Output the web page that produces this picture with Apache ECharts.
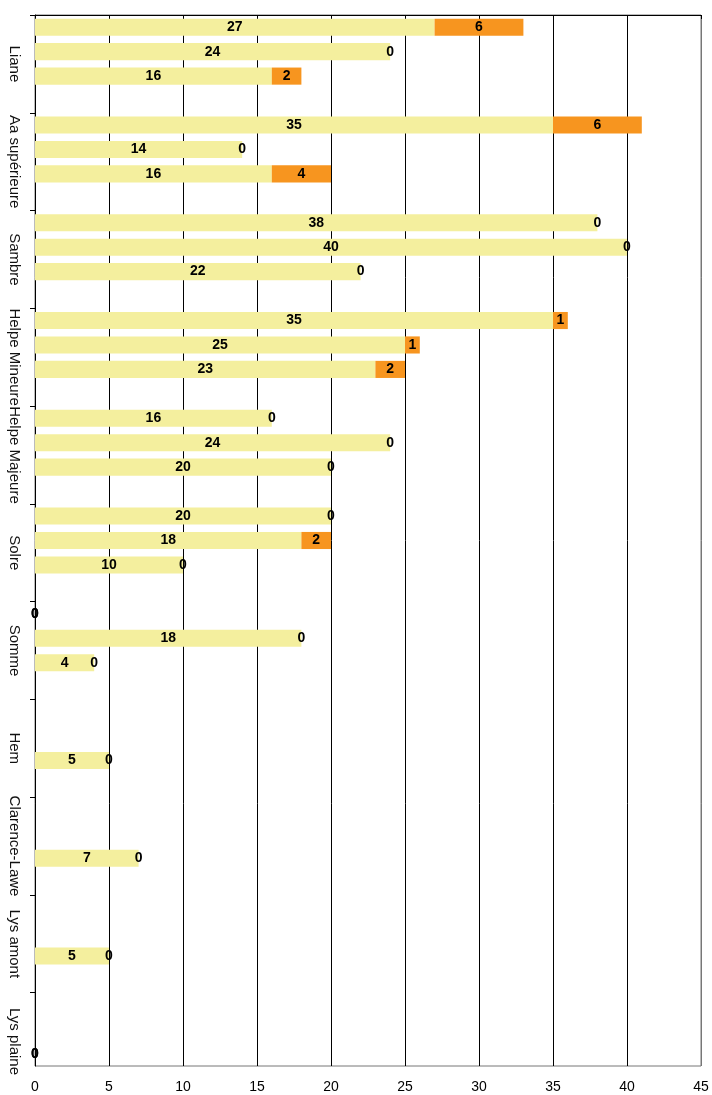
<!DOCTYPE html>
<html>
<head>
<meta charset="utf-8">
<script src="https://cdn.jsdelivr.net/npm/echarts@6/dist/echarts.min.js"></script>
<style>
html,body{margin:0;padding:0;background:#fff;}
#chart{width:712px;height:1095px;}
</style>
</head>
<body>
<div id="chart"></div>
<script>
// River names (outer categories, top to bottom)
const rivers = ['Liane', 'Aa supérieure', 'Sambre', 'Helpe Mineure', 'Helpe Majeure', 'Solre', 'Somme', 'Hem', 'Clarence-Lawe', 'Lys amont', 'Lys plaine'];
// Three rows per river: first (yellow) segment values
const yellowValues = [
  [27, 24, 16],
  [35, 14, 16],
  [38, 40, 22],
  [35, 25, 23],
  [16, 24, 20],
  [20, 18, 10],
  [0, 18, 4],
  [null, null, 5],
  [null, null, 7],
  [null, null, 5],
  [null, null, 0]
];
// Three rows per river: second (orange) segment values
const orangeValues = [
  [6, 0, 2],
  [6, 0, 4],
  [0, 0, 0],
  [1, 1, 2],
  [0, 0, 0],
  [0, 2, 0],
  [0, 0, 0],
  [null, null, 0],
  [null, null, 0],
  [null, null, 0],
  [null, null, 0]
];
// X axis ticks
const xTicks = [0, 5, 10, 15, 20, 25, 30, 35, 40, 45];

// Build slot rows: 3 rows per river plus an empty separator row (except after the last)
const slotNames = [];
const yellowData = [];
const orangeData = [];
const tickSlots = [];
const labelSlots = [];
rivers.forEach((r, g) => {
  tickSlots.push(slotNames.length);
  labelSlots.push(slotNames.length + 2);
  for (let s = 0; s < 3; s++) {
    slotNames.push(r + ' ' + (s + 1));
    yellowData.push(yellowValues[g][s] === null ? '-' : yellowValues[g][s]);
    orangeData.push(orangeValues[g][s] === null ? '-' : orangeValues[g][s]);
  }
  if (g < rivers.length - 1) {
    slotNames.push('sep' + g);
    yellowData.push('-');
    orangeData.push('-');
  }
});
const nSlots = slotNames.length;

const chart = echarts.init(document.getElementById('chart'), null, {renderer: 'canvas'});
const labelStyle = {
  show: true,
  position: 'inside',
  color: '#000',
  fontFamily: 'Liberation Sans, Arial, sans-serif',
  fontWeight: 'bold',
  fontSize: 14
};
const gridLineColors = xTicks.map((t, i) => i === xTicks.length - 1 ? '#777777' : '#000');

chart.setOption({
  animation: false,
  backgroundColor: '#fff',
  grid: {
    left: 35, right: 11, top: 15, bottom: 29,
    show: true, borderColor: '#777777', borderWidth: 1,
    containLabel: false
  },
  xAxis: {
    type: 'value',
    min: 0, max: 45, interval: 5,
    axisLine: {show: true, lineStyle: {color: '#000', width: 1}},
    axisTick: {show: true, length: 4, lineStyle: {color: '#000'}},
    axisLabel: {
      color: '#000', fontSize: 14, margin: 14,
      fontFamily: 'Liberation Sans, Arial, sans-serif'
    },
    splitLine: {show: true, lineStyle: {color: gridLineColors, width: 1}}
  },
  yAxis: [
    {
      type: 'category',
      data: slotNames,
      inverse: true,
      axisLine: {show: true, onZero: false, lineStyle: {color: '#000', width: 1}},
      axisTick: {show: false},
      axisLabel: {show: false},
      splitLine: {show: false}
    },
    {
      type: 'value',
      min: 0, max: nSlots,
      inverse: true,
      position: 'left',
      axisLine: {show: false},
      splitLine: {show: false},
      axisTick: {show: true, length: 5, customValues: tickSlots, lineStyle: {color: '#000'}},
      axisLabel: {
        show: true,
        customValues: labelSlots,
        rotate: -90,
        margin: 13,
        color: '#111',
        fontSize: 15,
        fontFamily: 'Liberation Sans, Arial, sans-serif',
        formatter: function (v) {
          const i = labelSlots.indexOf(Math.round(v));
          return i >= 0 ? rivers[i] : '';
        }
      }
    }
  ],
  series: [
    {
      name: 'yellow',
      type: 'bar',
      stack: 'total',
      yAxisIndex: 0,
      barCategoryGap: '30%',
      itemStyle: {color: '#F4EF9E'},
      label: labelStyle,
      data: yellowData
    },
    {
      name: 'orange',
      type: 'bar',
      stack: 'total',
      yAxisIndex: 0,
      barCategoryGap: '30%',
      itemStyle: {color: '#F7951F'},
      label: labelStyle,
      data: orangeData
    }
  ]
});
</script>
</body>
</html>
